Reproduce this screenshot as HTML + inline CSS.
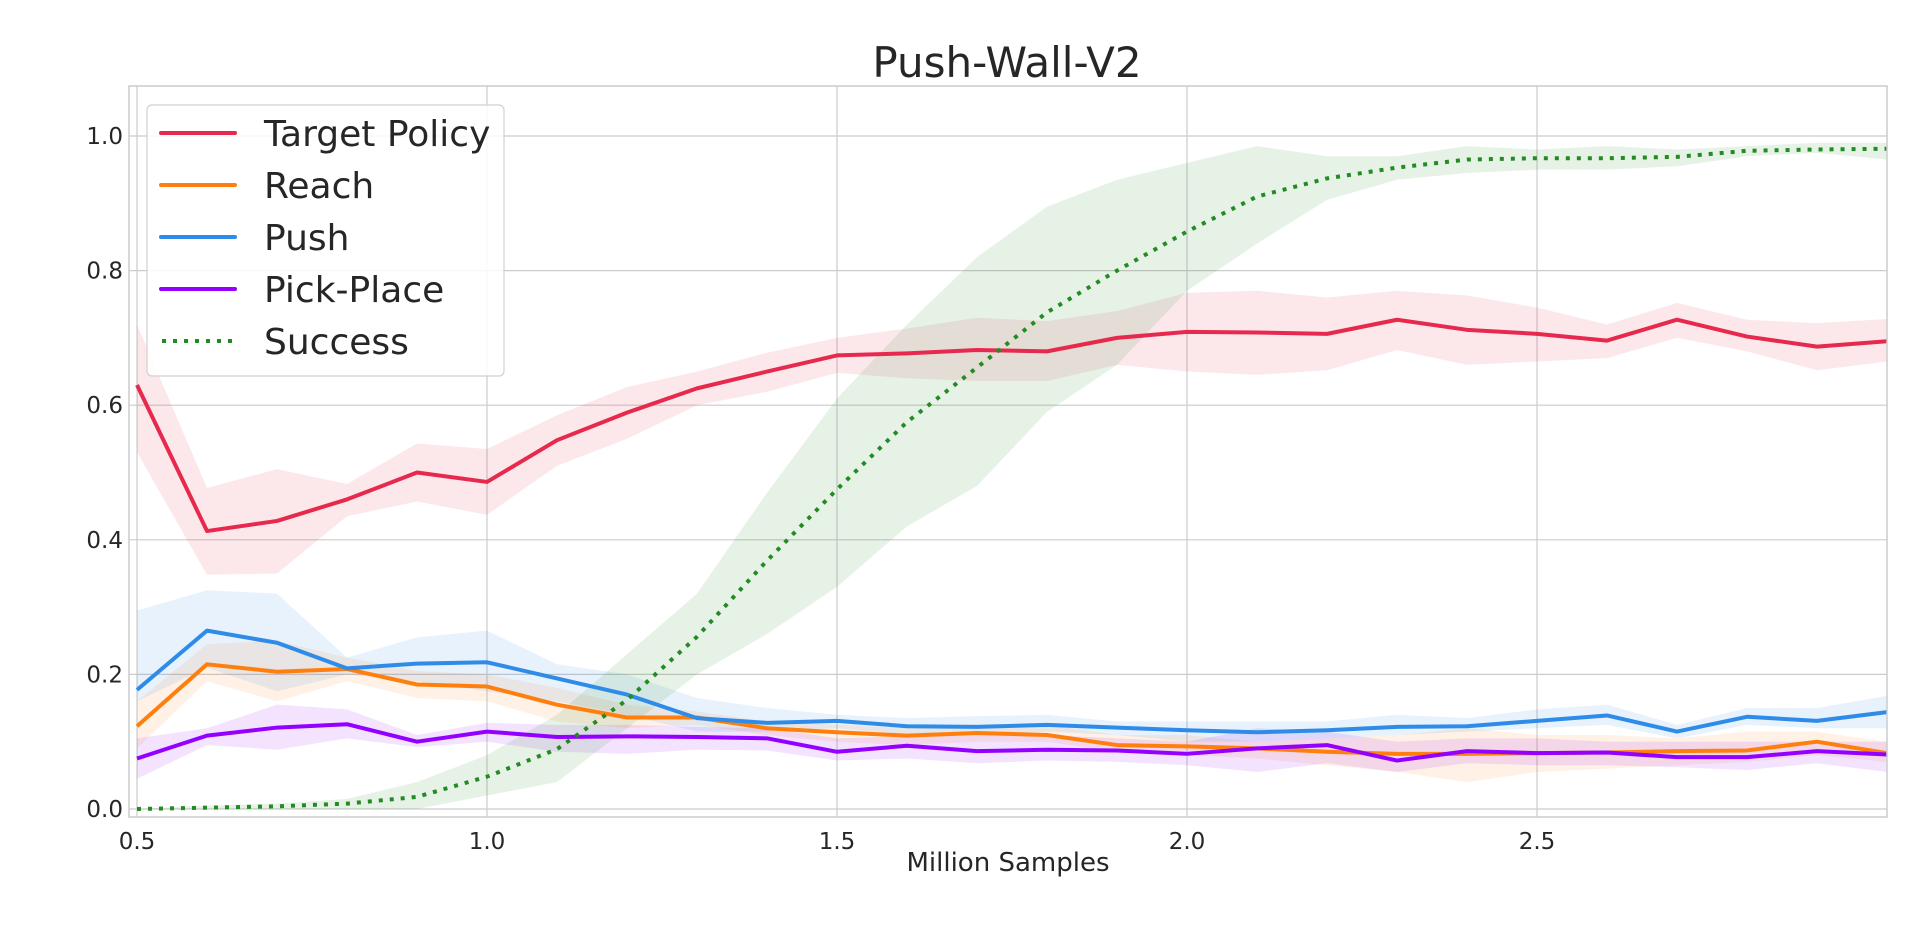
<!DOCTYPE html>
<html><head><meta charset="utf-8"><style>
body{margin:0;background:#fff}
svg{display:block;font-family:"DejaVu Sans","Liberation Sans",sans-serif}
</style></head><body>
<svg id="chart" width="1920" height="936" viewBox="0 0 1920 936" xmlns="http://www.w3.org/2000/svg">
<rect width="1920" height="936" fill="#fff"/>
<text x="1007" y="77" text-anchor="middle" font-size="42" fill="#262626">Push-Wall-V2</text>
<g id="grid"></g>
<g id="bands"></g>
<g id="lines"></g>
<rect x="129" y="86" width="1758" height="731" fill="none" stroke="#cccccc" stroke-width="1.5"/>
<g id="ticks"></g>
<text x="1008" y="871" text-anchor="middle" font-size="26" fill="#262626">Million Samples</text>
<g>
<rect x="147" y="105" width="357" height="271" rx="5" fill="#fff" fill-opacity="0.85" stroke="#d0d0d0" stroke-width="1.2"/>
<g><line x1="161" y1="133" x2="235" y2="133" stroke="#e6294c" stroke-width="4" stroke-linecap="round"/><text x="264" y="146" font-size="36" fill="#262626">Target Policy</text></g>
<g><line x1="161" y1="185" x2="235" y2="185" stroke="#ff7f0e" stroke-width="4" stroke-linecap="round"/><text x="264" y="198" font-size="36" fill="#262626">Reach</text></g>
<g><line x1="161" y1="237" x2="235" y2="237" stroke="#2e8ce8" stroke-width="4" stroke-linecap="round"/><text x="264" y="250" font-size="36" fill="#262626">Push</text></g>
<g><line x1="161" y1="289" x2="235" y2="289" stroke="#9400ff" stroke-width="4" stroke-linecap="round"/><text x="264" y="302" font-size="36" fill="#262626">Pick-Place</text></g>
<g><line x1="162" y1="341" x2="235" y2="341" stroke="#228b22" stroke-width="4" stroke-dasharray="4,7"/><text x="264" y="354" font-size="36" fill="#262626">Success</text></g>
</g>
</svg>
<script>
const xs=[0.5,0.6,0.7,0.8,0.9,1.0,1.1,1.2,1.3,1.4,1.5,1.6,1.7,1.8,1.9,2.0,2.1,2.2,2.3,2.4,2.5,2.6,2.7,2.8,2.9,3.0];
const xTicks=[0.5,1.0,1.5,2.0,2.5];
const yTicks=[0.0,0.2,0.4,0.6,0.8,1.0];
const targetMean=[.63,.413,.428,.46,.50,.486,.548,.589,.625,.65,.674,.677,.682,.68,.70,.709,.708,.706,.727,.712,.706,.696,.727,.702,.687,.695];
const targetLo=[.53,.348,.35,.435,.457,.437,.51,.55,.60,.62,.648,.64,.636,.636,.66,.65,.645,.652,.682,.66,.665,.67,.70,.68,.652,.665];
const targetHi=[.72,.477,.505,.483,.543,.535,.585,.627,.65,.678,.70,.714,.73,.725,.74,.767,.77,.76,.77,.763,.745,.72,.752,.727,.722,.728];
const reachMean=[.123,.215,.204,.208,.185,.182,.155,.136,.136,.12,.114,.109,.113,.11,.095,.093,.09,.085,.082,.082,.083,.084,.086,.087,.1,.083];
const reachLo=[.09,.19,.16,.19,.165,.16,.13,.12,.125,.11,.10,.095,.10,.10,.085,.08,.075,.065,.055,.04,.055,.06,.065,.07,.08,.07];
const reachHi=[.16,.245,.25,.225,.205,.2,.18,.155,.145,.13,.125,.12,.125,.125,.11,.11,.10,.105,.11,.12,.11,.11,.105,.115,.115,.1];
const pushMean=[.177,.265,.247,.209,.216,.218,.194,.17,.135,.128,.131,.123,.122,.125,.121,.117,.114,.117,.122,.123,.131,.139,.115,.137,.131,.144];
const pushLo=[.16,.21,.175,.2,.19,.175,.16,.14,.115,.115,.12,.11,.11,.115,.11,.1,.1,.105,.11,.115,.12,.125,.105,.125,.12,.12];
const pushHi=[.295,.325,.32,.225,.255,.265,.215,.2,.165,.15,.14,.135,.138,.14,.13,.13,.13,.13,.14,.135,.148,.155,.125,.15,.15,.168];
const pickMean=[.075,.109,.121,.126,.1,.115,.107,.108,.107,.105,.085,.094,.086,.088,.087,.082,.09,.095,.072,.086,.083,.084,.077,.077,.086,.081];
const pickLo=[.045,.095,.088,.105,.092,.1,.085,.082,.088,.087,.072,.075,.068,.072,.07,.065,.055,.068,.055,.068,.065,.065,.062,.058,.068,.055];
const pickHi=[.105,.12,.155,.148,.11,.128,.125,.125,.122,.12,.105,.108,.11,.11,.105,.1,.12,.115,.1,.105,.105,.1,.1,.1,.1,.1];
const successMean=[0,.002,.004,.008,.018,.048,.089,.162,.256,.369,.475,.575,.656,.738,.80,.858,.91,.937,.953,.965,.967,.967,.969,.978,.98,.981];
const successLo=[0,0,0,0,0,.02,.04,.12,.2,.26,.33,.42,.48,.59,.66,.77,.84,.905,.935,.945,.95,.95,.955,.97,.975,.965];
const successHi=[0,.005,.008,.015,.04,.08,.14,.23,.32,.47,.61,.72,.82,.895,.935,.96,.985,.97,.97,.985,.98,.985,.98,.985,.99,.99];

const X0=137,XS=700,Y0=809,YS=673;
const sx=v=>X0+(v-0.5)*XS, sy=v=>Y0-v*YS;
const NS="http://www.w3.org/2000/svg";
function mk(tag,attrs,parent){const e=document.createElementNS(NS,tag);for(const k in attrs)e.setAttribute(k,attrs[k]);parent.appendChild(e);return e;}
const grid=document.getElementById('grid'),ticks=document.getElementById('ticks');
xTicks.forEach(t=>{
  const g=mk('line',{x1:sx(t),x2:sx(t),y1:86,y2:817,stroke:'#cccccc','stroke-width':1.2},grid);
  
  
  const l=mk('text',{x:sx(t),y:849,'text-anchor':'middle','font-size':23,fill:'#262626'},ticks);
  l.textContent=t.toFixed(1);
  
  
});
yTicks.forEach(t=>{
  const g=mk('line',{x1:129,x2:1887,y1:sy(t),y2:sy(t),stroke:'#cccccc','stroke-width':1.2},grid);
  
  
  const l=mk('text',{x:123,y:sy(t)+8,'text-anchor':'end','font-size':23,fill:'#262626'},ticks);
  l.textContent=t.toFixed(1);
  
  
});
const series=[
 ['target-policy',targetMean,targetLo,targetHi,'#e6294c',''],
 ['reach',reachMean,reachLo,reachHi,'#ff7f0e',''],
 ['push',pushMean,pushLo,pushHi,'#2e8ce8',''],
 ['pick-place',pickMean,pickLo,pickHi,'#9400ff',''],
 ['success',successMean,successLo,successHi,'#228b22','4,7']
];
const bands=document.getElementById('bands'),lines=document.getElementById('lines');
series.forEach(([name,m,lo,hi,c,dash])=>{
  const top=xs.map((x,i)=>sx(x)+','+sy(hi[i]));
  const bot=xs.map((x,i)=>sx(x)+','+sy(lo[i])).reverse();
  const b=mk('polygon',{points:top.concat(bot).join(' '),fill:c,'fill-opacity':0.11},bands);
  
  
  const a={points:xs.map((x,i)=>sx(x)+','+sy(m[i])).join(' '),fill:'none',stroke:c,'stroke-width':4,'stroke-linejoin':'round'};
  if(dash)a['stroke-dasharray']=dash;
  const p=mk('polyline',a,lines);
  
  
});
</script>
</body></html>
